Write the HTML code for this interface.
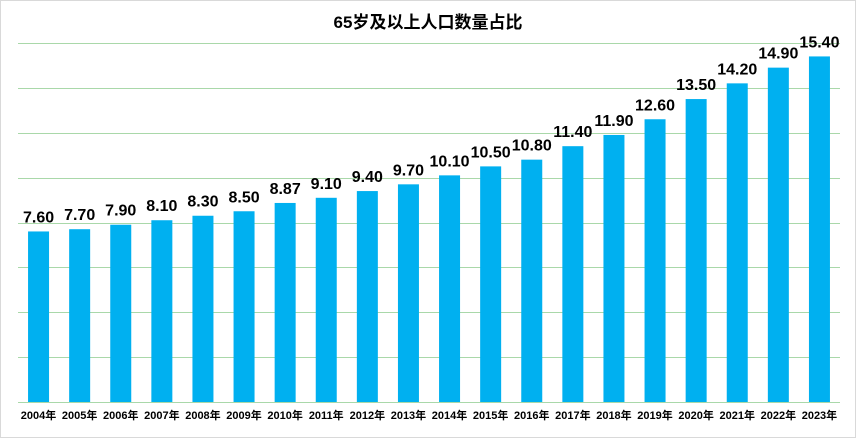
<!DOCTYPE html>
<html><head><meta charset="utf-8"><style>
body{margin:0;background:#fff}
svg{display:block}
text{font-family:"Liberation Sans","Noto Sans CJK SC",sans-serif;font-weight:bold;fill:#000}
</style></head><body>
<svg width="856" height="438" viewBox="0 0 856 438">
<rect x="0.5" y="0.5" width="855" height="437" fill="#fff" stroke="#d9d9d9"/>
<text x="428" y="28" font-size="17" text-anchor="middle">65岁及以上人口数量占比</text>
<g stroke="#a9d8a9" stroke-width="1">
<line x1="18" x2="840" y1="43.5" y2="43.5"/><line x1="18" x2="840" y1="88.5" y2="88.5"/>
<line x1="18" x2="840" y1="133.5" y2="133.5"/><line x1="18" x2="840" y1="178.5" y2="178.5"/>
<line x1="18" x2="840" y1="223.5" y2="223.5"/><line x1="18" x2="840" y1="267.5" y2="267.5"/>
<line x1="18" x2="840" y1="312.5" y2="312.5"/><line x1="18" x2="840" y1="357.5" y2="357.5"/>
<line x1="18" x2="840" y1="402.5" y2="402.5"/>
</g>
<g id="bars"></g>
</svg>
<script>
var v=[7.60,7.70,7.90,8.10,8.30,8.50,8.87,9.10,9.40,9.70,10.10,10.50,10.80,11.40,11.90,12.60,13.50,14.20,14.90,15.40];
var g=document.getElementById('bars'),ns='http://www.w3.org/2000/svg',s='';
for(var i=0;i<20;i++){var c=18+41.1*(i+.5),t=402-v[i]*22.44;
s+='<rect x="'+(c-10.5)+'" y="'+t+'" width="21" height="'+(402-t)+'" fill="#00b0f0"/>';
s+='<text x="'+c+'" y="'+(t-9)+'" font-size="16" text-anchor="middle">'+v[i].toFixed(2)+'</text>';
s+='<text x="'+c+'" y="419" font-size="11" text-anchor="middle">'+(2004+i)+'年</text>';}
g.innerHTML=s;
</script>
</body></html>
